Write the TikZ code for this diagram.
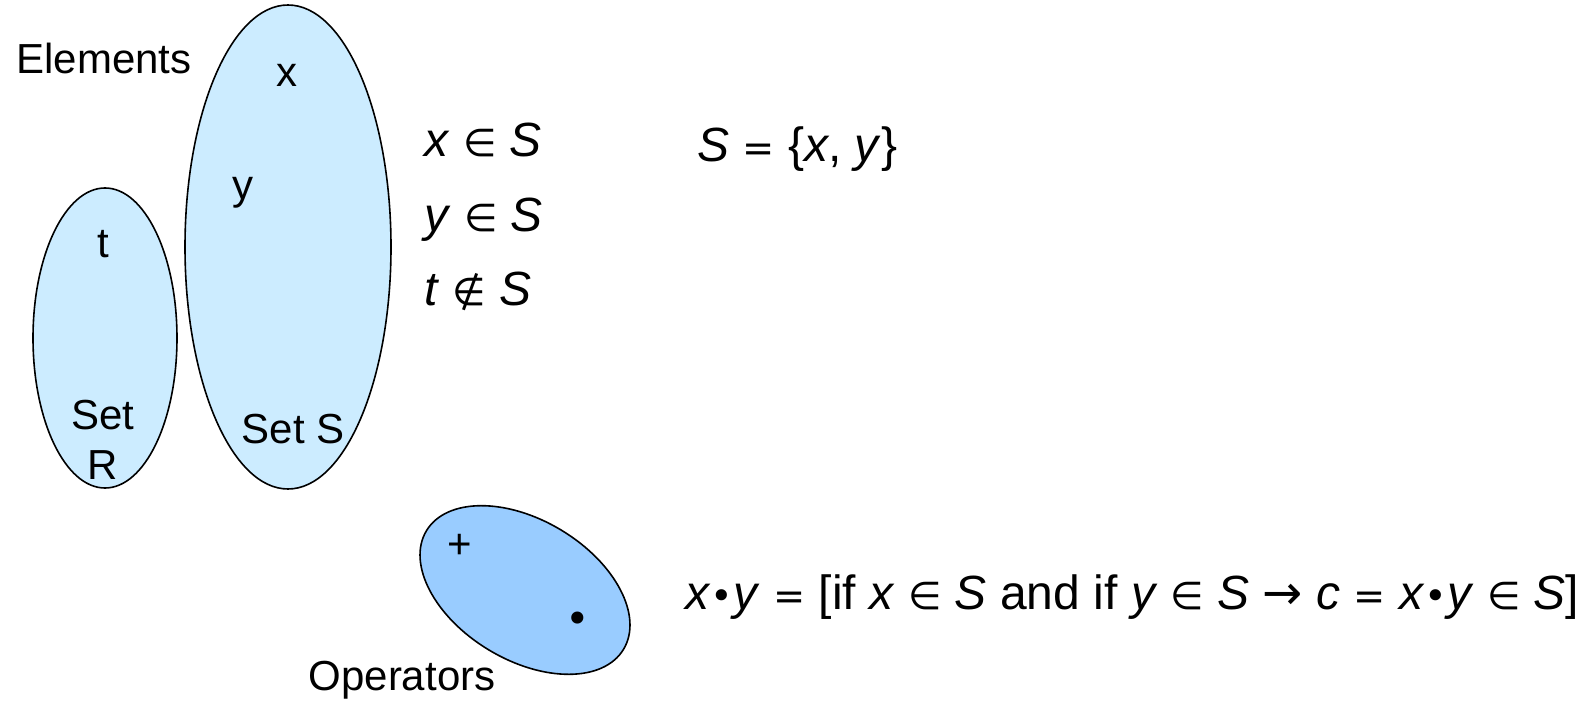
\documentclass[tikz,border=0pt]{standalone}
\usepackage{fontspec}
\setmainfont{Liberation Sans}
\newfontfamily\symf[Scale=0.8]{DejaVu Sans}
\newfontfamily\arrf{DejaVu Sans}
\usepackage{tikz}
\usetikzlibrary{shapes.geometric, positioning}
\definecolor{setfill}{HTML}{CCECFF}
\definecolor{opfill}{HTML}{99CCFF}
\newcommand{\inS}{{\symf ∈}}
\newcommand{\notinS}{{\symf ∉}}

\begin{document}
\begin{tikzpicture}[
    x=0.5pt, y=0.5pt,
    setshape/.style={ellipse, draw=black, line width=0.8pt, fill=setfill, inner sep=0pt},
    label/.style={font=\fontsize{21}{25}\selectfont, inner sep=0pt, anchor=base},
    formula/.style={font=\fontsize{24}{28}\selectfont, inner sep=0pt, anchor=base west},
]
\useasboundingbox (0,0) rectangle (1583,702);

% the two sets
\node[setshape, minimum width=72pt, minimum height=150pt] (setR) at (105,364) {};
\node[setshape, minimum width=103pt, minimum height=242pt] (setS) at (288,455) {};
% operators
\node[setshape, fill=opfill, rotate=-31, minimum width=115pt, minimum height=70pt] (ops) at (525,112) {};

\node[label] (elements) at (104,628) {Elements};
\node[label] (elx) at (287,615) {x};
\node[label] (ely) at (243,502) {y};
\node[label] (elt) at (103,444) {t};
\node[label, anchor=center, align=center] (nameR) at (103,262) {Set\\R};
\node[label] (nameS) at (293,259) {Set S};
\node[label] (operators) at (402,12) {Operators};
\node[label, anchor=center] (plus) at (460,156) {+};
\node[label, anchor=center, font=\fontsize{26}{26}\selectfont\symf] (dot) at (578,79) {•};

\node[formula] (fx) at (424,545) {\textit{x} \inS{} \textit{S}};
\node[formula] (fy) at (424,470) {\textit{y} \inS{} \textit{S}};
\node[formula] (ft) at (424,396) {\textit{t} \notinS{} \textit{S}};
\node[formula] (fset) at (697,540) {\textit{S} {\symf =} \{\textit{x}, \textit{y}\}};
\node[formula] (frule) at (685,93)
  {\textit{x}{\symf •}\textit{y} {\symf =} [if \textit{x} \inS{} \textit{S} and if \textit{y} \inS{} \textit{S} {\arrf →} \textit{c} {\symf =} \textit{x}{\symf •}\textit{y} \inS{} \textit{S}]};

\end{tikzpicture}
\end{document}
